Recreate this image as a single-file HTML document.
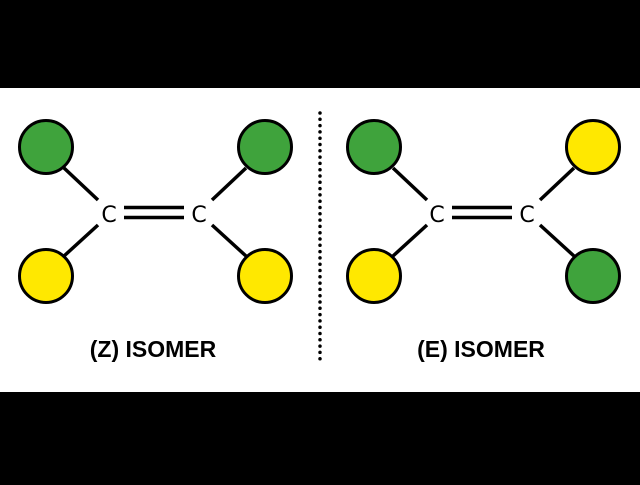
<!DOCTYPE html>
<html><head><style>
body{margin:0;width:640px;height:480px;background:#000;overflow:hidden}
</style></head><body>
<svg width="640" height="480" xmlns="http://www.w3.org/2000/svg">
<rect x="0" y="0" width="640" height="480" fill="#000"/>
<rect x="0" y="88" width="640" height="304" fill="#fff"/>
<g stroke="#000" stroke-width="3.5">
<line x1="64" y1="168" x2="98" y2="200"/>
<line x1="64" y1="256" x2="98" y2="225"/>
<line x1="246" y1="168" x2="212" y2="200"/>
<line x1="246" y1="256" x2="212" y2="225"/>
<line x1="124" y1="207.5" x2="184" y2="207.5"/>
<line x1="124" y1="217.5" x2="184" y2="217.5"/>
<line x1="393" y1="168" x2="427" y2="200"/>
<line x1="393" y1="256" x2="427" y2="225"/>
<line x1="574" y1="168" x2="540" y2="200"/>
<line x1="574" y1="256" x2="540" y2="225"/>
<line x1="452" y1="207.5" x2="512" y2="207.5"/>
<line x1="452" y1="217.5" x2="512" y2="217.5"/>
</g>
<g stroke="#000" stroke-width="3">
<circle cx="46" cy="147" r="26.5" fill="#3fa33c"/>
<circle cx="46" cy="276" r="26.5" fill="#ffe800"/>
<circle cx="265" cy="147" r="26.5" fill="#3fa33c"/>
<circle cx="265" cy="276" r="26.5" fill="#ffe800"/>
<circle cx="374" cy="147" r="26.5" fill="#3fa33c"/>
<circle cx="374" cy="276" r="26.5" fill="#ffe800"/>
<circle cx="593" cy="147" r="26.5" fill="#ffe800"/>
<circle cx="593" cy="276" r="26.5" fill="#3fa33c"/>
</g>
<line x1="320" y1="113" x2="320" y2="363" stroke="#000" stroke-width="3.5" stroke-linecap="round" stroke-dasharray="0 6.3"/>
<g font-family="DejaVu Sans, Liberation Sans, sans-serif" font-size="22" text-anchor="middle" fill="#000">
<text x="109" y="222">C</text>
<text x="199" y="222">C</text>
<text x="437" y="222">C</text>
<text x="527" y="222">C</text>
</g>
<g font-family="Liberation Sans, sans-serif" text-anchor="middle" fill="#000" font-weight="bold" font-size="23">
<text x="153" y="357">(Z) ISOMER</text>
<text x="481" y="357">(E) ISOMER</text>
</g>
</svg>
</body></html>
